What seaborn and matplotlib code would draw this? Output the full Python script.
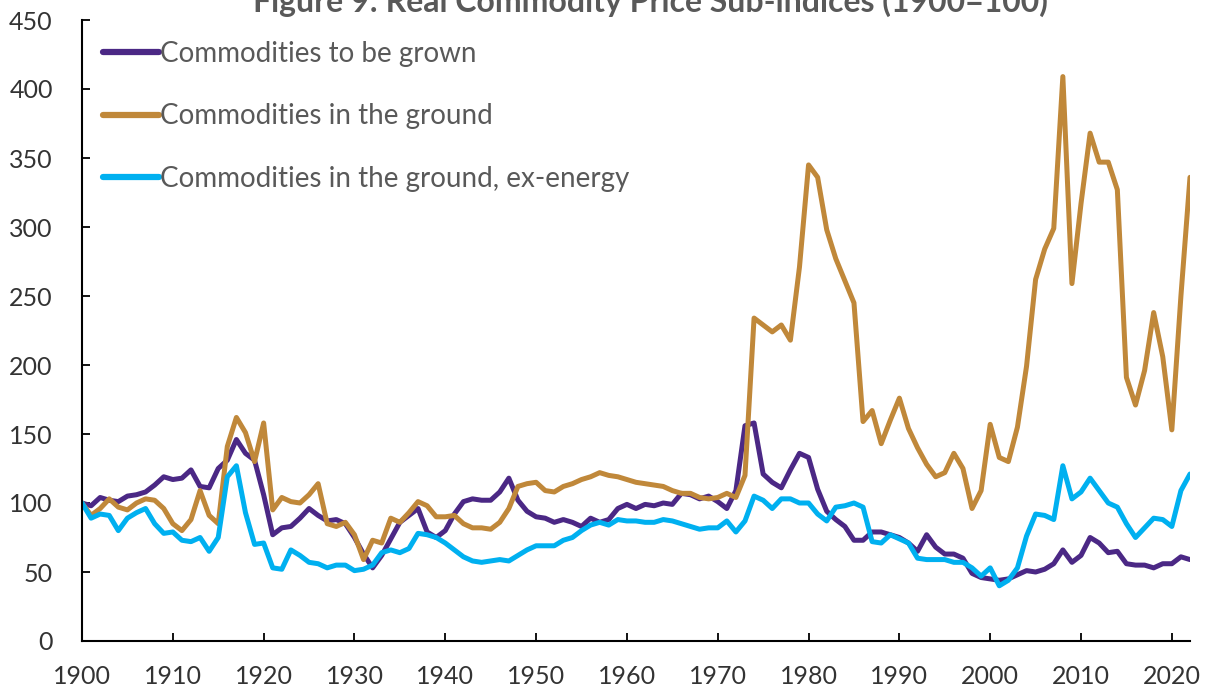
import matplotlib
matplotlib.use("Agg")
import matplotlib.pyplot as plt
import seaborn as sns
import pandas as pd
import numpy as np

years = list(range(1900, 2023))

grown = [100, 98, 104, 102, 101, 105, 106, 108, 113, 119,
         117, 118, 124, 112, 111, 125, 131, 146, 136, 131,
         106, 77, 82, 83, 89, 96, 91, 87, 88, 85,
         75, 63, 53, 62, 74, 86, 91, 96, 79, 75,
         80, 92, 101, 103, 102, 102, 108, 118, 102, 94,
         90, 89, 86, 88, 86, 83, 89, 86, 88, 96,
         99, 96, 99, 98, 100, 99, 107, 106, 103, 105,
         101, 96, 109, 156, 158, 121, 115, 111, 124, 136,
         133, 110, 94, 88, 83, 73, 73, 79, 79, 77,
         75, 71, 65, 77, 68, 63, 63, 60, 49, 46,
         45, 44, 45, 48, 51, 50, 52, 56, 66, 57,
         62, 75, 71, 64, 65, 56, 55, 55, 53, 56,
         56, 61, 59]

ground = [100, 91, 96, 103, 97, 95, 100, 103, 102, 96,
          85, 80, 88, 109, 91, 85, 141, 162, 151, 130,
          158, 95, 104, 101, 100, 106, 114, 85, 83, 86,
          77, 59, 73, 71, 89, 86, 93, 101, 98, 90,
          90, 91, 85, 82, 82, 81, 86, 96, 112, 114,
          115, 109, 108, 112, 114, 117, 119, 122, 120, 119,
          117, 115, 114, 113, 112, 109, 107, 107, 104, 103,
          104, 107, 104, 120, 234, 229, 224, 229, 218, 271,
          345, 336, 298, 277, 261, 245, 159, 167, 143, 160,
          176, 154, 140, 128, 119, 122, 136, 125, 96, 109,
          157, 133, 130, 155, 199, 262, 284, 299, 409, 259,
          317, 368, 347, 347, 327, 191, 171, 196, 238, 206,
          153, 250, 336]

ground_ex = [100, 89, 92, 91, 80, 89, 93, 96, 85, 78,
             79, 73, 72, 75, 65, 75, 119, 127, 93, 70,
             71, 53, 52, 66, 62, 57, 56, 53, 55, 55,
             51, 52, 55, 64, 66, 64, 67, 78, 77, 75,
             71, 66, 61, 58, 57, 58, 59, 58, 62, 66,
             69, 69, 69, 73, 75, 80, 84, 86, 84, 88,
             87, 87, 86, 86, 88, 87, 85, 83, 81, 82,
             82, 87, 79, 87, 105, 102, 96, 103, 103, 100,
             100, 92, 87, 97, 98, 100, 97, 72, 71, 77,
             74, 71, 60, 59, 59, 59, 57, 57, 53, 47,
             53, 40, 44, 53, 76, 92, 91, 88, 127, 103,
             108, 118, 109, 100, 97, 85, 75, 82, 89, 88,
             83, 109, 121]

series_names = ["Commodities to be grown",
                "Commodities in the ground",
                "Commodities in the ground, ex-energy"]
colors = ["#4B2885", "#C0883A", "#00B0F0"]
x_ticks = list(range(1900, 2021, 10))
y_ticks = list(range(0, 451, 50))
title = "Figure 9: Real Commodity Price Sub-indices (1900=100)"

df = pd.DataFrame({
    "year": years * 3,
    "value": grown + ground + ground_ex,
    "series": [series_names[0]] * len(years) + [series_names[1]] * len(years)
              + [series_names[2]] * len(years),
})

sns.set_theme(style="white")
plt.rcParams["font.family"] = ["Lato", "DejaVu Sans"]

fig = plt.figure(figsize=(12.11, 6.92), dpi=100)
ax = fig.add_axes([82 / 1211, 1 - 641 / 692, (1190 - 82) / 1211, (641 - 20) / 692])

sns.lineplot(data=df, x="year", y="value", hue="series", hue_order=series_names,
             palette=colors, linewidth=3.6, ax=ax, legend=True)

ax.set_xlim(1900, 2022)
ax.set_ylim(0, 450)
ax.set_xticks(x_ticks)
ax.set_yticks(y_ticks)
ax.set_xlabel("")
ax.set_ylabel("")
for s in ["top", "right"]:
    ax.spines[s].set_visible(False)
for s in ["left", "bottom"]:
    ax.spines[s].set_color("black")
    ax.spines[s].set_linewidth(1.5)
ax.tick_params(axis="both", direction="in", length=6, width=1.3, colors="black",
               labelsize=18, labelcolor="#333333", left=True, bottom=True)
ax.tick_params(axis="x", pad=17)
ax.tick_params(axis="y", pad=21)

handles, labels = ax.get_legend_handles_labels()
for h in handles:
    h.set_linewidth(4.5)
    h.set_solid_capstyle("round")
leg = ax.legend(handles, labels, loc="upper left", bbox_to_anchor=(103 / 1211, 1 - 41 / 692),
                bbox_transform=fig.transFigure, frameon=False, fontsize=20,
                handlelength=2.0, handletextpad=0.05, labelspacing=1.31, borderaxespad=0,
                borderpad=0)
for t in leg.get_texts():
    t.set_color("#595959")

fig.text(650 / 1211, 1 - 12 / 692, title, ha="center", va="baseline",
         fontsize=23, fontweight="bold", color="#595959")

fig.savefig("out.png", dpi=100)
